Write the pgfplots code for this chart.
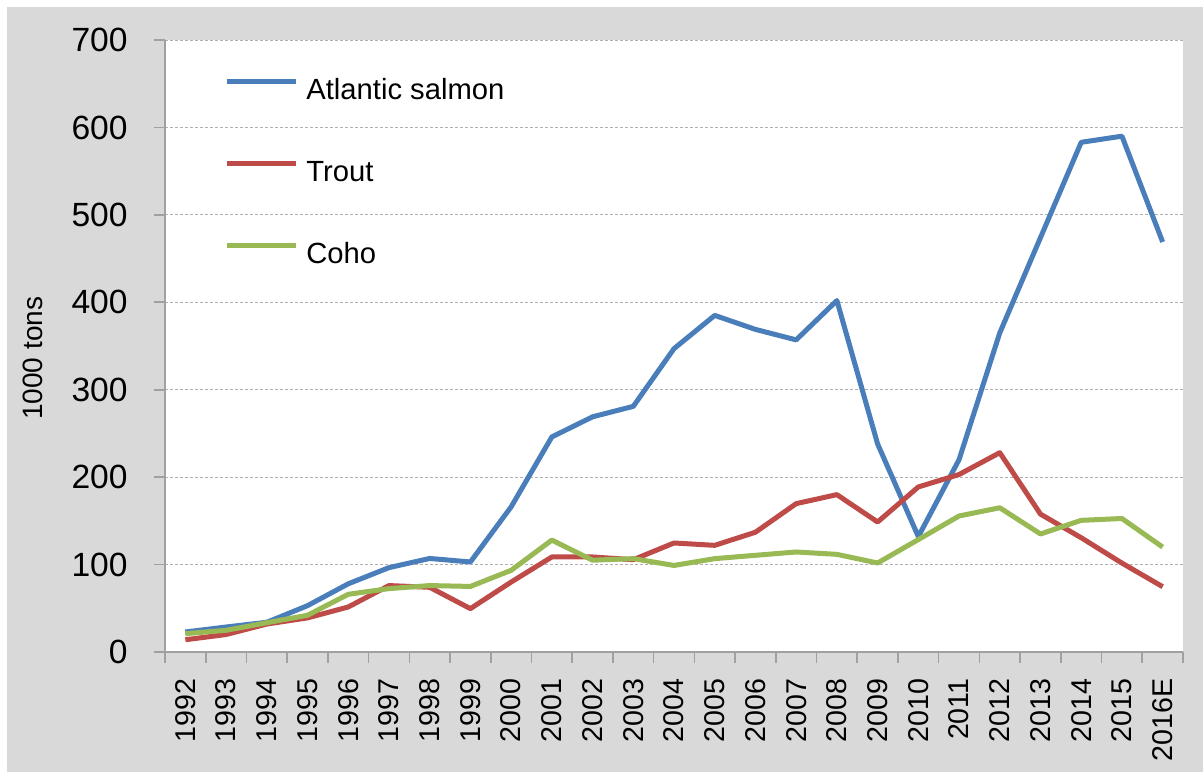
\documentclass[border=0pt]{standalone}
\usepackage{fontspec}
\setmainfont{Liberation Sans}
\usepackage{pgfplots}
\pgfplotsset{compat=1.18}
\definecolor{bgray}{HTML}{D9D9D9}
\definecolor{sblue}{HTML}{4A7EBB}
\definecolor{sred}{HTML}{BE4B48}
\definecolor{sgreen}{HTML}{98B954}
\definecolor{axgray}{HTML}{A0A0A0}
\definecolor{gridgray}{HTML}{B0B0B0}
\begin{document}
\begin{tikzpicture}
\path[use as bounding box] (0,0) rectangle (601.5pt,386pt);
\fill[bgray] (3.5pt,0) rectangle (601.5pt,382.5pt);
\begin{axis}[
  at={(82.5pt,60pt)}, anchor=south west,
  scale only axis, width=509pt, height=306pt,
  xmin=-0.5, xmax=24.5, ymin=0, ymax=700,
  axis background/.style={fill=white},
  axis x line*=bottom, axis y line*=left,
  axis line style={axgray, line width=0.8pt, -},
  ytick={0,100,...,700},
  xtick={-0.5,0.5,...,24.5},
  x tick label as interval,
  xticklabels={1992,1993,1994,1995,1996,1997,1998,1999,2000,2001,2002,2003,2004,2005,2006,2007,2008,2009,2010,2011,2012,2013,2014,2015,2016E},
  major tick length=5.5pt,
  tick align=outside,
  tick style={axgray, line width=0.8pt},
  ymajorgrids,
  grid style={gridgray, dash pattern=on 1.5pt off 1pt, line width=0.5pt},
  /pgf/number format/assume math mode=true,
  yticklabel style={font=\fontsize{16.8}{16.8}\selectfont, anchor=east, inner sep=0pt, xshift=-13pt},
  xticklabel style={font=\fontsize{14.3}{14.3}\selectfont, yshift=-7.5pt, rotate=90, anchor=east, inner sep=0pt},
  ylabel={1000 tons},
  every axis y label/.style={at={(rel axis cs:-0.1297,0.48)}, rotate=90, anchor=center, font=\fontsize{14}{14}\selectfont},
  legend style={at={(rel axis cs:0,1)}, anchor=north west, xshift=29.5pt, yshift=-18.5pt,
    draw=none, fill=none, inner sep=0pt, row sep=27pt, column sep=4pt,
    font=\fontsize{14.6}{14.6}\selectfont,
    nodes={inner sep=0pt, text height=11pt, text depth=3pt}},
  legend cell align=left,
  legend image code/.code={\draw[#1] (0pt,5pt) -- (34.5pt,5pt);},
]
\addplot[sblue, line width=2.5pt, line join=round] coordinates {
(0,22.9) (1,28.6) (2,34) (3,53) (4,78) (5,96.5) (6,107) (7,103) (8,166) (9,246)
(10,269) (11,281) (12,347) (13,385) (14,369) (15,357) (16,402) (17,238) (18,132)
(19,220) (20,365) (21,474) (22,583) (23,590) (24,469)};
\addlegendentry{Atlantic salmon}
\addplot[sred, line width=2.5pt, line join=round] coordinates {
(0,14) (1,20) (2,32) (3,39) (4,51.5) (5,76) (6,74) (7,49.6) (8,80) (9,108.7)
(10,108.7) (11,105.6) (12,124.7) (13,122) (14,137) (15,169.7) (16,180) (17,148.7)
(18,188.8) (19,203) (20,228) (21,157.7) (22,130.7) (23,101.7) (24,74.7)};
\addlegendentry{Trout}
\addplot[sgreen, line width=2.5pt, line join=round] coordinates {
(0,21) (1,24.8) (2,33.5) (3,42) (4,66) (5,72.5) (6,76) (7,75) (8,93.4) (9,128)
(10,105) (11,106.8) (12,99) (13,106.8) (14,110.6) (15,114.4) (16,111.7) (17,101.8)
(18,128.6) (19,155.6) (20,165) (21,135) (22,150.6) (23,152.7) (24,120)};
\addlegendentry{Coho}
\end{axis}
\end{tikzpicture}
\end{document}
